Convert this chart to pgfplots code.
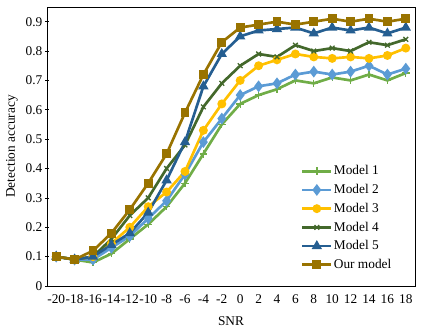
\documentclass[border=0pt]{standalone}
\usepackage{fontspec}
\setmainfont{Liberation Serif}
\usepackage{pgfplots}
\pgfplotsset{compat=1.18}

\definecolor{mone}{HTML}{70AD47}
\definecolor{mtwo}{HTML}{5B9BD5}
\definecolor{mthree}{HTML}{FFC000}
\definecolor{mfour}{HTML}{43682B}
\definecolor{mfive}{HTML}{255E91}
\definecolor{mours}{HTML}{997300}

\begin{document}
\begin{tikzpicture}
\begin{axis}[
    scale only axis,
    width=276pt, height=209.25pt,
    xmin=-21, xmax=19,
    ymin=0, ymax=0.95,
    xtick={-20,-18,...,18},
    minor xtick={-21,-19,...,19},
    ytick={0,0.1,...,0.9},
    yticklabels={0,0.1,0.2,0.3,0.4,0.5,0.6,0.7,0.8,0.9},
    /pgf/number format/assume math mode=true,
    tick label style={font=\fontsize{10}{11}\selectfont},
    x tick label style={yshift=-3pt},
    xtick style={draw=none},
    minor x tick style={black, line width=0.5pt},
    minor tick length=2.5pt,
    ytick style={black, line width=0.5pt},
    ytick pos=left, xtick pos=bottom,
    major tick length=2.5pt,
    y tick style={xshift=-1.25pt},
    axis line style={line width=0.6pt},
    xlabel={SNR},
    ylabel={Detection accuracy},
    label style={font=\fontsize{10}{11}\selectfont},
    xlabel style={yshift=-3pt},
    ylabel style={yshift=-1pt},
    every axis plot/.append style={line width=2pt, mark size=2.3pt},
    legend style={draw=none, fill=none, font=\fontsize{10}{11}\selectfont,
        at={(0.94,0.05)}, anchor=south east, row sep=3.6pt,
        inner sep=0pt, nodes={inner sep=1pt}},
    legend cell align=left,
    legend image code/.code={
        \draw[mark repeat=2,mark phase=2] plot coordinates {(0cm,0cm) (0.38cm,0cm) (0.76cm,0cm)};},
]
\addplot[mone, mark=+, mark options={line width=1pt, mark size=2.8pt}] coordinates {
(-20,0.10) (-18,0.09) (-16,0.08) (-14,0.11) (-12,0.16) (-10,0.21) (-8,0.27) (-6,0.35) (-4,0.45) (-2,0.55)
(0,0.62) (2,0.65) (4,0.67) (6,0.70) (8,0.69) (10,0.71) (12,0.70) (14,0.72) (16,0.70) (18,0.725)};
\addlegendentry{Model 1}
\addplot[mtwo, mark=diamond*, mark options={mark size=2.8pt}] coordinates {
(-20,0.10) (-18,0.09) (-16,0.09) (-14,0.13) (-12,0.17) (-10,0.23) (-8,0.29) (-6,0.38) (-4,0.49) (-2,0.57)
(0,0.65) (2,0.68) (4,0.69) (6,0.72) (8,0.73) (10,0.72) (12,0.73) (14,0.75) (16,0.72) (18,0.74)};
\addlegendentry{Model 2}
\addplot[mthree, mark=*] coordinates {
(-20,0.10) (-18,0.09) (-16,0.10) (-14,0.145) (-12,0.20) (-10,0.27) (-8,0.32) (-6,0.39) (-4,0.53) (-2,0.62)
(0,0.70) (2,0.75) (4,0.77) (6,0.79) (8,0.78) (10,0.775) (12,0.78) (14,0.775) (16,0.785) (18,0.81)};
\addlegendentry{Model 3}
\addplot[mfour, mark=x, mark options={line width=1pt, mark size=2.5pt}] coordinates {
(-20,0.10) (-18,0.09) (-16,0.10) (-14,0.16) (-12,0.24) (-10,0.30) (-8,0.40) (-6,0.48) (-4,0.61) (-2,0.69)
(0,0.75) (2,0.79) (4,0.78) (6,0.82) (8,0.80) (10,0.81) (12,0.80) (14,0.83) (16,0.82) (18,0.84)};
\addlegendentry{Model 4}
\addplot[mfive, mark=triangle*, mark options={mark size=2.5pt}] coordinates {
(-20,0.10) (-18,0.09) (-16,0.10) (-14,0.14) (-12,0.18) (-10,0.25) (-8,0.36) (-6,0.49) (-4,0.68) (-2,0.79)
(0,0.85) (2,0.87) (4,0.875) (6,0.88) (8,0.86) (10,0.88) (12,0.87) (14,0.88) (16,0.86) (18,0.88)};
\addlegendentry{Model 5}
\addplot[mours, mark=square*] coordinates {
(-20,0.10) (-18,0.09) (-16,0.12) (-14,0.18) (-12,0.26) (-10,0.35) (-8,0.45) (-6,0.59) (-4,0.72) (-2,0.83)
(0,0.88) (2,0.89) (4,0.90) (6,0.89) (8,0.90) (10,0.91) (12,0.90) (14,0.91) (16,0.90) (18,0.91)};
\addlegendentry{Our model}
\end{axis}
\useasboundingbox (-35.25pt,-36pt) rectangle (281.25pt,214.5pt);
\end{tikzpicture}
\end{document}
